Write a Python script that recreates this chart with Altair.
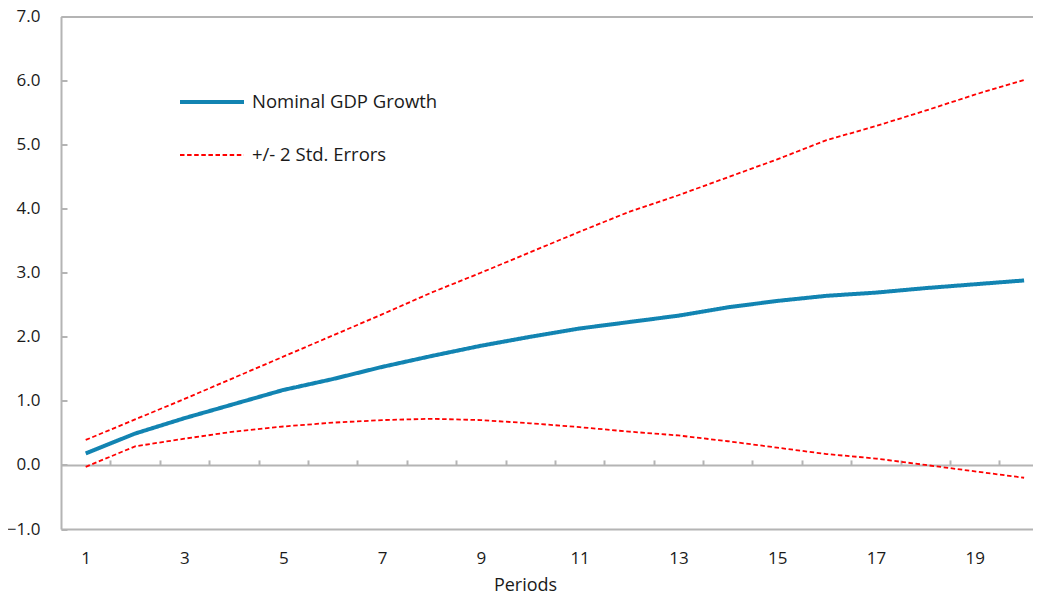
import altair as alt
import pandas as pd

periods = list(range(1, 21))
gdp_growth = [0.18, 0.49, 0.73, 0.95, 1.17, 1.34, 1.53, 1.70, 1.86, 2.00,
              2.13, 2.23, 2.33, 2.46, 2.56, 2.64, 2.69, 2.76, 2.82, 2.88]
upper_band = [0.39, 0.71, 1.03, 1.36, 1.69, 2.02, 2.35, 2.69, 3.00, 3.32,
              3.64, 3.95, 4.21, 4.49, 4.77, 5.07, 5.29, 5.53, 5.78, 6.01]
lower_band = [-0.03, 0.29, 0.41, 0.52, 0.60, 0.66, 0.70, 0.72, 0.70, 0.65,
              0.59, 0.52, 0.46, 0.37, 0.27, 0.17, 0.10, 0.00, -0.10, -0.20]
series_names = ["Nominal GDP Growth", "+/- 2 Std. Errors"]
y_ticks = [-1, 0, 1, 2, 3, 4, 5, 6, 7]
x_labels = [1, 3, 5, 7, 9, 11, 13, 15, 17, 19]
x_boundaries = [k + 0.5 for k in range(1, 20)]

rows = []
for p, v in zip(periods, gdp_growth):
    rows.append({"period": p, "value": v, "series": series_names[0], "band": "mid"})
for p, v in zip(periods, upper_band):
    rows.append({"period": p, "value": v, "series": series_names[1], "band": "upper"})
for p, v in zip(periods, lower_band):
    rows.append({"period": p, "value": v, "series": series_names[1], "band": "lower"})
df = pd.DataFrame(rows)

W, H = 972, 512.5
FONT = "Open Sans"
TXT = "#1a1a1a"
GRAY = "#b4b4b4"
BLUE = "#1284b2"
RED = "#ff0000"

# the plot area of the original runs past the right edge of the picture
x_scale = alt.Scale(domain=[0.5, 20.18], nice=False, zero=False)
y_scale = alt.Scale(domain=[-1, 7], nice=False, zero=False)

legend = alt.Legend(
    title=None, orient="none", legendX=133, legendY=67.5,
    symbolType="M-2,0H2", symbolSize=1024, rowPadding=26, labelOffset=22,
    padding=0, labelFont=FONT, labelFontSize=18.5, labelColor=TXT, labelLimit=500,
)

lines = alt.Chart(df).mark_line(strokeCap="butt").encode(
    x=alt.X("period:Q", scale=x_scale,
            axis=alt.Axis(orient="bottom", values=x_labels, ticks=False, domain=True,
                          domainColor=GRAY, domainWidth=2,
                          grid=False, labelPadding=21, labelFontSize=17,
                          title="Periods", titleX=464, titleY=61, titleAlign="center",
                          titleBaseline="alphabetic",
                          titleFontSize=18, titleFontWeight="normal")),
    y=alt.Y("value:Q", scale=y_scale,
            axis=alt.Axis(orient="left", values=y_ticks, format=".1f", ticks=False, domain=True,
                          domainColor=GRAY, domainWidth=2,
                          grid=False, labelPadding=21, labelFontSize=17, title=None)),
    color=alt.Color("series:N", scale=alt.Scale(domain=series_names, range=[BLUE, RED]),
                    legend=legend),
    strokeDash=alt.StrokeDash("series:N",
                              scale=alt.Scale(domain=series_names, range=[[1, 0], [4.5, 2.6]]),
                              legend=legend),
    strokeWidth=alt.StrokeWidth("series:N",
                                scale=alt.Scale(domain=series_names, range=[4, 1.8]),
                                legend=legend),
    detail="band:N",
)

zero_axis = alt.Chart(df).mark_line(opacity=0).encode(
    x=alt.X("period:Q", scale=x_scale,
            axis=alt.Axis(orient="top", offset=-H * 7 / 8, values=x_boundaries,
                          labels=False, ticks=True, tickSize=5, tickColor=GRAY, tickWidth=2,
                          domain=True, domainColor=GRAY, domainWidth=2, grid=False, title=None)),
    y=alt.Y("value:Q", scale=y_scale,
            axis=alt.Axis(orient="right", offset=-W, values=y_ticks, labels=False,
                          ticks=True, tickSize=6, tickColor=GRAY, tickWidth=2,
                          domain=False, grid=False, title=None)),
    detail="band:N",
)

top_border = alt.Chart(df).mark_line(opacity=0).encode(
    x=alt.X("period:Q", scale=x_scale,
            axis=alt.Axis(orient="top", labels=False, ticks=False, domain=True,
                          domainColor=GRAY, domainWidth=2, grid=False, title=None)),
    y=alt.Y("value:Q", scale=y_scale, axis=None),
    detail="band:N",
)

chart = alt.layer(top_border, zero_axis, lines).resolve_axis(
    x="independent", y="independent"
).properties(
    width=W, height=H,
    padding={"left": 53, "top": 8.5, "right": 0, "bottom": 69},
    autosize=alt.AutoSizeParams(type="none"),
).configure_view(
    stroke=None
).configure_axis(
    labelFont=FONT, titleFont=FONT, labelColor=TXT, titleColor=TXT
)

chart.save("out.html", embed_options={"renderer": "svg", "actions": False})
